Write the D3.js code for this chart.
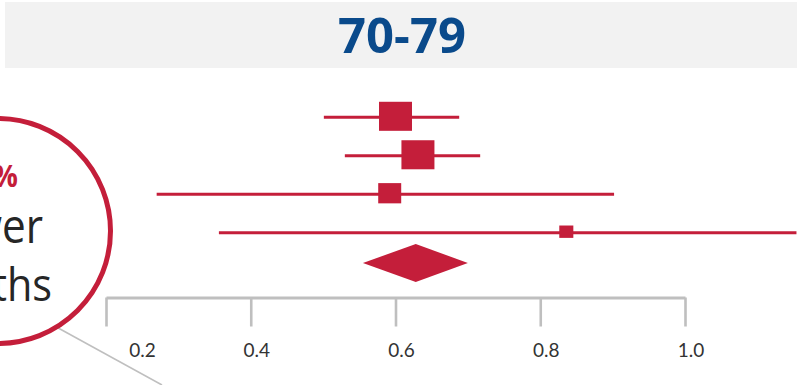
<!DOCTYPE html>
<html>
<head>
<meta charset="utf-8">
<script src="https://cdn.jsdelivr.net/npm/d3@7"></script>
<style>
  html, body { margin: 0; padding: 0; background: #ffffff; }
  svg { display: block; }
</style>
</head>
<body>
<svg id="chart" width="804" height="385"></svg>
<script>
// Forest plot for the 70-79 age group: hazard ratios with 95% CI per study and a pooled estimate
const title = "70-79";
const studies = ["Study A", "Study B", "Study C", "Study D"];
const estimates = [0.600, 0.631, 0.592, 0.836];
const lowerCI = [0.501, 0.530, 0.270, 0.356];
const upperCI = [0.688, 0.717, 0.902, 1.154];
const weights = [37.5, 37.5, 18.2, 6.8];
const pooledLower = 0.555;
const pooledEstimate = 0.628;
const pooledUpper = 0.700;
const tickValues = [0.2, 0.4, 0.6, 0.8, 1.0];
const calloutLines = ["%", "lower", "deaths"];

const RED = "#c41e3a";
const GRAY = "#bfbfbf";

const svg = d3.select("#chart");

// Header band with the age group title
svg.append("rect")
  .attr("x", 5).attr("y", 2).attr("width", 792).attr("height", 66)
  .attr("fill", "#f2f2f2");
svg.append("text")
  .attr("x", 402).attr("y", 53)
  .attr("text-anchor", "middle")
  .attr("font-family", "'Open Sans', sans-serif")
  .attr("font-weight", 700)
  .attr("font-size", 49)
  .attr("fill", "#0a4a8b")
  .text(title);

// Scales
const x = d3.scaleLinear().domain([0.2, 1.0]).range([106, 685]);
const y = d3.scalePoint().domain(studies).range([117.3, 232.7]);
const pooledY = 263;
const boxSize = d3.scaleSqrt().domain([0, d3.max(weights)]).range([0, 33]);

// Callout bubble with its leader line
svg.append("line")
  .attr("x1", 40).attr("y1", 318).attr("x2", 162).attr("y2", 385)
  .attr("stroke", GRAY).attr("stroke-width", 1.6);
svg.append("circle")
  .attr("cx", -2).attr("cy", 231).attr("r", 112.5)
  .attr("fill", "#ffffff").attr("stroke", RED).attr("stroke-width", 5);

// Callout text is set slightly condensed (horizontally narrowed)
const squeeze = 0.9;
const callout = svg.append("g")
  .attr("transform", `scale(${squeeze},1)`)
  .attr("font-family", "'Open Sans', sans-serif");
callout.append("text")
  .attr("x", 18 / squeeze).attr("y", 187).attr("text-anchor", "end")
  .attr("font-weight", 700).attr("font-size", 31).attr("fill", RED)
  .text(calloutLines[0]);
callout.append("text")
  .attr("x", 43 / squeeze).attr("y", 243).attr("text-anchor", "end")
  .attr("font-size", 47).attr("fill", "#262626")
  .text(calloutLines[1]);
callout.append("text")
  .attr("x", 52 / squeeze).attr("y", 301).attr("text-anchor", "end")
  .attr("font-size", 46).attr("fill", "#262626")
  .text(calloutLines[2]);

// Confidence interval lines
const rows = studies.map((s, i) => ({
  study: s, est: estimates[i], lo: lowerCI[i], hi: upperCI[i], w: weights[i]
}));

svg.append("g").selectAll("line")
  .data(rows).join("line")
  .attr("x1", d => x(d.lo)).attr("x2", d => x(d.hi))
  .attr("y1", d => y(d.study)).attr("y2", d => y(d.study))
  .attr("stroke", RED).attr("stroke-width", 3);

// Point estimates, sized by study weight
svg.append("g").selectAll("rect")
  .data(rows).join("rect")
  .attr("x", d => x(d.est) - boxSize(d.w) / 2)
  .attr("y", d => y(d.study) - boxSize(d.w) * 0.88 / 2 - 1)
  .attr("width", d => boxSize(d.w))
  .attr("height", d => boxSize(d.w) * 0.88)
  .attr("fill", RED);

// Pooled estimate diamond
svg.append("path")
  .attr("d", d3.line()([
    [x(pooledLower), pooledY],
    [x(pooledEstimate), pooledY - 19],
    [x(pooledUpper), pooledY],
    [x(pooledEstimate), pooledY + 19]
  ]) + "Z")
  .attr("fill", RED);

// Axis
const axis = svg.append("g")
  .attr("transform", "translate(0,297.5)")
  .call(d3.axisBottom(x)
    .tickValues(tickValues)
    .tickSizeInner(29)
    .tickSizeOuter(0)
    .tickFormat(d3.format(".1f")));
axis.select(".domain").attr("stroke", GRAY).attr("stroke-width", 3.2);
axis.selectAll(".tick line").attr("stroke", GRAY).attr("stroke-width", 2.6);
axis.selectAll(".tick text")
  .attr("x", (d, i) => i === 0 ? 36 : 5.5)
  .attr("y", 59.5)
  .attr("dy", 0)
  .attr("fill", "#333333")
  .attr("font-family", "Lato, 'Open Sans', sans-serif")
  .attr("font-size", 19);
</script>
</body>
</html>
